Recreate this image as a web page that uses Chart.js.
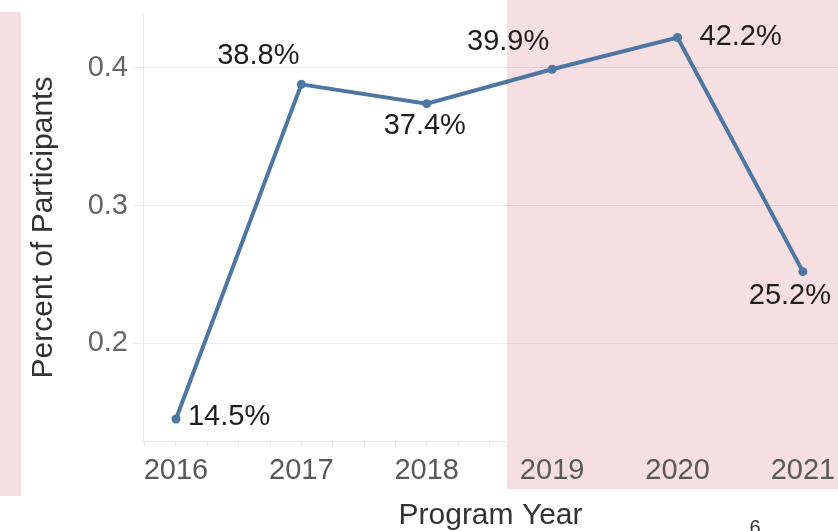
<!DOCTYPE html>
<html>
<head>
<meta charset="utf-8">
<script src="https://cdn.jsdelivr.net/npm/chart.js@4/dist/chart.umd.min.js"></script>
<style>
  html, body { margin: 0; padding: 0; background: #ffffff; }
  #wrap { width: 838px; height: 531px; position: relative; }
</style>
</head>
<body>
<div id="wrap"><canvas id="c" width="838" height="531"></canvas></div>
<script>
// ---- data ----
const years = [2016, 2017, 2018, 2019, 2020, 2021];
const percentParticipants = [0.145, 0.388, 0.374, 0.399, 0.422, 0.252];
const pointLabels = ['14.5%', '38.8%', '37.4%', '39.9%', '42.2%', '25.2%'];
const yTickValues = [0.2, 0.3, 0.4];
const yTickLabels = ['0.2', '0.3', '0.4'];
const xTickLabels = ['2016', '2017', '2018', '2019', '2020', '2021'];
const xTitle = 'Program Year';
const yTitle = 'Percent of Participants';
const pageNumber = '6';

// minor quarter-year ticks along the x axis
const xMinorTicks = [];
for (let i = -1; i <= (years.length - 1) * 4 + 1; i++) xMinorTicks.push(years[0] + i * 0.25);

const FONT = '"Liberation Sans", Arial, sans-serif';
const LINE = '#4e76a3';

// label offsets relative to each point: [dx, dy, align]
const labelOffsets = [[12, -2, 'left'], [-43, -28, 'center'], [-2, 22, 'center'],
                      [-44, -27, 'center'], [22, -1, 'left'], [-13, 24, 'center']];

const backgroundPlugin = {
  id: 'bgBands',
  beforeDraw(chart) {
    const ctx = chart.ctx;
    ctx.save();
    ctx.fillStyle = '#ffffff';
    ctx.fillRect(0, 0, chart.width, chart.height);
    ctx.fillStyle = 'rgb(245,223,227)';
    ctx.fillRect(0, 12, 21, 484);
    ctx.fillRect(507, 0, chart.width - 507, 489);
    ctx.restore();
  }
};

const labelPlugin = {
  id: 'pointLabels',
  afterDatasetsDraw(chart) {
    const ctx = chart.ctx;
    const meta = chart.getDatasetMeta(0);
    ctx.save();
    ctx.font = '29px ' + FONT;
    ctx.fillStyle = '#1e1e1e';
    ctx.textBaseline = 'middle';
    meta.data.forEach((pt, i) => {
      const [dx, dy, al] = labelOffsets[i];
      ctx.textAlign = al;
      ctx.fillText(pointLabels[i], pt.x + dx, pt.y + dy);
    });
    ctx.font = '20px ' + FONT;
    ctx.fillStyle = '#333333';
    ctx.textAlign = 'center';
    ctx.textBaseline = 'top';
    ctx.fillText(pageNumber, 755, 518);
    ctx.restore();
  }
};

new Chart(document.getElementById('c'), {
  type: 'line',
  data: {
    datasets: [{
      data: years.map((y, i) => ({ x: y, y: percentParticipants[i] })),
      borderColor: LINE,
      backgroundColor: LINE,
      borderWidth: 4,
      pointRadius: 4.5,
      pointBorderWidth: 0,
      pointBackgroundColor: LINE,
      tension: 0,
      fill: false,
      clip: 10
    }]
  },
  options: {
    responsive: false,
    animation: false,
    devicePixelRatio: 1,
    layout: { autoPadding: false, padding: { top: 14, right: 0, bottom: 0, left: 0 } },
    plugins: { legend: { display: false }, tooltip: { enabled: false } },
    scales: {
      x: {
        type: 'linear',
        min: 2015.737,
        max: 2021.28,
        afterFit(scale) {
          scale.height = 90;
          scale.paddingLeft = 0; scale.paddingRight = 0;
        },
        afterBuildTicks(scale) { scale.ticks = xMinorTicks.map(v => ({ value: v })); },
        border: { display: true, color: '#e8e8e8', width: 1 },
        grid: { drawOnChartArea: false, drawTicks: true, tickLength: 5, tickColor: '#e4e4e4' },
        ticks: {
          autoSkip: false, maxRotation: 0, minRotation: 0, padding: 8,
          color: '#595959', font: { family: FONT, size: 29 },
          callback(v) { const i = years.indexOf(v); return i >= 0 ? xTickLabels[i] : ''; }
        },
        title: {
          display: true, text: xTitle, color: '#333333',
          font: { family: FONT, size: 30 }, padding: { top: 0, bottom: -3 }
        }
      },
      y: {
        min: 0.129,
        max: 0.4391,
        afterFit(scale) {
          scale.width = 143;
          scale.paddingTop = 0; scale.paddingBottom = 0;
        },
        afterBuildTicks(scale) { scale.ticks = yTickValues.map(v => ({ value: v })); },
        border: { display: true, color: '#e8e8e8', width: 1 },
        grid: { color: 'rgba(0,0,0,0.07)', tickLength: 10, tickColor: 'rgba(0,0,0,0.07)' },
        ticks: {
          padding: 5, color: '#666666', font: { family: FONT, size: 29 },
          callback(v) { const i = yTickValues.indexOf(v); return i >= 0 ? yTickLabels[i] : ''; }
        },
        title: {
          display: true, text: yTitle, color: '#333333',
          font: { family: FONT, size: 30 }, padding: { top: 26, bottom: 0 }
        }
      }
    }
  },
  plugins: [backgroundPlugin, labelPlugin]
});
</script>
</body>
</html>
